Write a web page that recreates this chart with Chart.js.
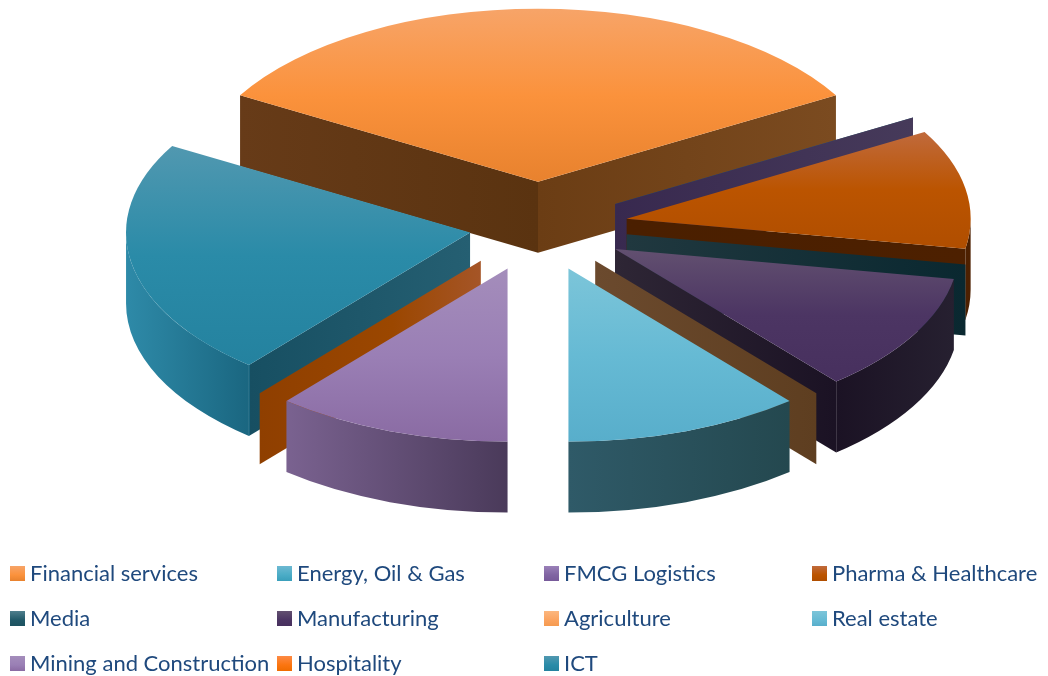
<!DOCTYPE html>
<html>
<head>
<meta charset="utf-8">
<title>Sector shares</title>
<script src="https://cdn.jsdelivr.net/npm/chart.js@4"></script>
<style>
    html, body { margin: 0; padding: 0; background: #fff; }
    #wrap { position: relative; width: 1048px; height: 676px; overflow: hidden; }
    #pie { position: absolute; left: 0; top: 0; }
    .item { position: absolute; font: 22px Lato, sans-serif; color: #1f497d; line-height: 26px; white-space: nowrap; }
    .swatch { position: absolute; left: -20px; top: 6px; width: 15px; height: 15px; }
</style>
</head>
<body>
<div id="wrap">
    <canvas id="pie" width="1048" height="676"></canvas>
    <div id="legend"></div>
</div>
<script>
var sectors = ['Financial services', 'Energy, Oil & Gas', 'FMCG Logistics', 'Pharma & Healthcare',
    'Media', 'Manufacturing', 'Agriculture', 'Real estate',
    'Mining and Construction', 'Hospitality', 'ICT'];
var counts = [3, 0, 0, 1, 0, 1, 0, 1, 1, 0, 2];

// top face colours: light edge, body, lower edge
var topColors = [
    ['#f7a468', '#fb923c', '#e8822e'],
    ['#6db9d2', '#4bacc6', '#3a9fbb'],
    ['#9a80b8', '#8064a2', '#775a9a'],
    ['#c06a3c', '#bb5400', '#b04e00'],
    ['#4f7f8d', '#215968', '#1d5260'],
    ['#625070', '#4c3563', '#47305e'],
    ['#fcb77f', '#fba35f', '#f59a50'],
    ['#7cc5d9', '#66bad4', '#58aecb'],
    ['#a48dbb', '#9a7fb5', '#8a6ba3'],
    ['#fd8a45', '#fb7510', '#f06c00'],
    ['#5198b0', '#2a8ba8', '#24829f']
];

// side wall colours, left to right across the slice: [stop, colour]
var wallColors = [
    [[0, '#673b18'], [0.5, '#5a3310'], [0.5, '#6b3d14'], [1, '#7b4b20']],
    [[0, '#1f5b6b'], [1, '#2c6a7b']],
    [[0, '#38294f'], [1, '#463a5a']],
    [[0, '#4a1f00'], [1, '#4d2000']],
    [[0, '#20383f'], [1, '#0a2830']],
    [[0, '#2e2635'], [0.65, '#1b1224'], [1, '#262030']],
    [[0, '#6b4a2e'], [1, '#5e3e20']],
    [[0, '#2f5a68'], [1, '#24484f']],
    [[0, '#7a6290'], [1, '#4a3a5a']],
    [[0, '#8f3f00'], [0.6, '#9b4700'], [1, '#a55527']],
    [[0, '#2e8aa8'], [0.36, '#1a6680'], [0.36, '#174f62'], [1, '#255f72']]
];

// how far each slice is pulled out of the pie
var explode = [89, 89, 89, 90, 90, 89, 89, 89, 89, 89, 69];
// back slices first, the front ones overlap them
var paintOrder = [0, 1, 2, 3, 4, 5, 6, 10, 9, 8, 7];

var tilt = 0.503;
var wallHeight = 71;
var TAU = Math.PI * 2;

function sliceBounds(el) {
    var r = el.outerRadius;
    var xs = [0, r * Math.cos(el.startAngle), r * Math.cos(el.endAngle)];
    var ys = [0, r * Math.sin(el.startAngle), r * Math.sin(el.endAngle)];
    // the arc may pass through one of the four axis points
    for (var q = -4; q < 12; q++) {
        var a = q * Math.PI / 2;
        if (a > el.startAngle && a < el.endAngle) {
            xs.push(r * Math.cos(a));
            ys.push(r * Math.sin(a));
        }
    }
    return {
        minX: Math.min.apply(null, xs), maxX: Math.max.apply(null, xs),
        minY: Math.min.apply(null, ys), maxY: Math.max.apply(null, ys)
    };
}

function drawWalls(ctx, el, i, sx, sy, box) {
    var r = el.outerRadius;
    var grad = ctx.createLinearGradient(sx + box.minX, 0, sx + box.maxX, 0);
    wallColors[i].forEach(function (s) { grad.addColorStop(s[0], s[1]); });
    ctx.fillStyle = grad;

    function radial(a) {
        var px = sx + r * Math.cos(a);
        var py = sy + r * tilt * Math.sin(a);
        ctx.beginPath();
        ctx.moveTo(sx, sy);
        ctx.lineTo(px, py);
        ctx.lineTo(px, py + wallHeight);
        ctx.lineTo(sx, sy + wallHeight);
        ctx.closePath();
        ctx.fill();
    }
    // only faces turned towards the viewer
    if (Math.cos(el.startAngle) < 0) radial(el.startAngle);
    if (Math.cos(el.endAngle) > 0) radial(el.endAngle);

    // rounded rim, only on the front half of the ellipse
    for (var n = -1; n < 3; n++) {
        var a0 = Math.max(el.startAngle, n * TAU);
        var a1 = Math.min(el.endAngle, n * TAU + Math.PI);
        if (a1 <= a0) continue;
        ctx.beginPath();
        ctx.ellipse(sx, sy, r, r * tilt, 0, a0, a1);
        ctx.ellipse(sx, sy + wallHeight, r, r * tilt, 0, a1, a0, true);
        ctx.closePath();
        ctx.fill();
    }
}

var tiltedPie = {
    id: 'tiltedPie',
    beforeDatasetsDraw: function (chart) {
        var ctx = chart.ctx;
        var arcs = chart.getDatasetMeta(0).data;
        paintOrder.forEach(function (i) {
            var el = arcs[i];
            var mid = (el.startAngle + el.endAngle) / 2;
            var dx = Math.cos(mid) * explode[i];
            var dy = Math.sin(mid) * explode[i] * tilt;
            var box = sliceBounds(el);

            drawWalls(ctx, el, i, el.x + dx, el.y + dy, box);

            ctx.save();
            ctx.translate(dx, el.y + dy);
            ctx.scale(1, tilt);
            ctx.translate(0, -el.y);
            var grad = ctx.createLinearGradient(0, el.y + box.minY, 0, el.y + box.maxY);
            grad.addColorStop(0, topColors[i][0]);
            grad.addColorStop(0.5, topColors[i][1]);
            grad.addColorStop(1, topColors[i][2]);
            el.options = Object.assign({}, el.options, { backgroundColor: grad });
            el.draw(ctx);
            ctx.restore();
        });
        return false;
    }
};

var chart = new Chart(document.getElementById('pie').getContext('2d'), {
    type: 'pie',
    data: {
        labels: sectors,
        datasets: [{
            data: counts,
            backgroundColor: topColors.map(function (c) { return c[1]; }),
            borderWidth: 0
        }]
    },
    options: {
        responsive: false,
        animation: false,
        events: [],
        radius: 344,
        rotation: 300,
        layout: { padding: { left: 28, bottom: 223 } },
        plugins: { legend: { display: false }, tooltip: { enabled: false } }
    },
    plugins: [tiltedPie]
});

// legend below the pie, four columns and three rows
var legendX = [30, 297, 564, 832];
var legendY = [560, 605, 650];
var legend = document.getElementById('legend');
sectors.forEach(function (name, i) {
    var item = document.createElement('div');
    item.className = 'item';
    item.style.left = legendX[i % 4] + 'px';
    item.style.top = legendY[Math.floor(i / 4)] + 'px';
    item.textContent = name;
    var swatch = document.createElement('span');
    swatch.className = 'swatch';
    swatch.style.background = 'linear-gradient(' + topColors[i][0] + ',' + topColors[i][1] + ' 60%,' + topColors[i][2] + ')';
    item.appendChild(swatch);
    legend.appendChild(item);
});
</script>
</body>
</html>
